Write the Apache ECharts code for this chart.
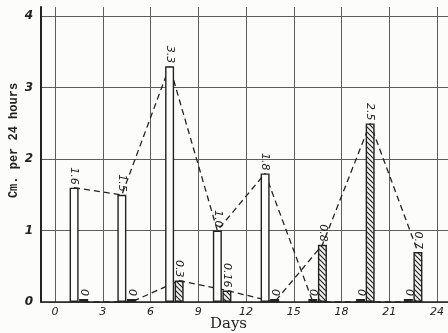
<!DOCTYPE html>
<html>
<head>
<meta charset="utf-8">
<script src="https://cdn.jsdelivr.net/npm/echarts@6/dist/echarts.min.js"></script>
<style>
  html, body { margin: 0; padding: 0; background: #fcfcfb; }
  #chart { width: 448px; height: 333px; }
</style>
</head>
<body>
<div id="chart"></div>
<script>
// Three-day periods: midpoint day of each period
const periodMid = [1.5, 4.5, 7.5, 10.5, 13.5, 16.5, 19.5, 22.5];
// Open bars (first measure) and hatched bars (second measure), cm per 24 hours
const openValues = [1.6, 1.5, 3.3, 1.0, 1.8, 0, 0, 0];
const openLabels = ['1.6', '1.5', '3.3', '1.0', '1.8', '0', '0', '0'];
const hatchValues = [0, 0, 0.3, 0.16, 0, 0.8, 2.5, 0.7];
const hatchLabels = ['0', '0', '0.3', '0.16', '0', '0.8', '2.5', '0.7'];
// Axis ticks
const dayTicks = [0, 3, 6, 9, 12, 15, 18, 21, 24];
const cmTicks = [0, 1, 2, 3, 4];

// the two bars of a period sit side by side around its midpoint
const HALF = 0.3;
const openData = periodMid.map((d, i) => [d - HALF, openValues[i]]);
const hatchData = periodMid.map((d, i) => [d + HALF, hatchValues[i]]);

function hatchPattern() {
  const s = 5;
  const c = document.createElement('canvas');
  c.width = s; c.height = s;
  const g = c.getContext('2d');
  g.fillStyle = '#f2f2f0';
  g.fillRect(0, 0, s, s);
  g.strokeStyle = '#2a2a2a';
  g.lineWidth = 1.2;
  g.beginPath();
  g.moveTo(0, 0); g.lineTo(s, s);
  g.moveTo(-s, 0); g.lineTo(0, s);
  g.moveTo(0, -s); g.lineTo(s, 0);
  g.moveTo(s, 0); g.lineTo(2 * s, s);
  g.moveTo(0, s); g.lineTo(s, 2 * s);
  g.stroke();
  return c;
}

const ink = '#222';
const labelFont = { fontFamily: 'DejaVu Sans', fontStyle: 'italic', fontSize: 11, color: ink };

function barLabel(texts) {
  return {
    show: true,
    position: 'top',
    distance: 3,
    rotate: -90,
    align: 'right',
    verticalAlign: 'middle',
    formatter: p => texts[p.dataIndex],
    ...labelFont
  };
}

const chart = echarts.init(document.getElementById('chart'), null, { renderer: 'canvas' });
chart.setOption({
  backgroundColor: '#fcfcfb',
  animation: false,
  grid: { left: 41, right: 0, top: 7, bottom: 31, containLabel: false, outerBoundsMode: 'none' },
  xAxis: {
    type: 'value',
    min: -0.88,
    max: 24.69,
    name: 'Days',
    nameLocation: 'middle',
    nameGap: 15,
    nameMoveOverlap: false,
    nameTextStyle: { fontFamily: 'DejaVu Serif', fontSize: 15, color: ink, padding: [0, 32, 0, 0] },
    axisLine: { show: true, onZero: false, lineStyle: { color: ink, width: 1.6 } },
    axisTick: { show: false, customValues: dayTicks },
    axisLabel: { customValues: dayTicks, margin: 5, ...labelFont, fontSize: 11 },
    splitLine: { show: true, lineStyle: { color: '#5e5e5e', width: 1 } }
  },
  yAxis: {
    type: 'value',
    min: 0,
    max: 4.13,
    name: 'Cm. per 24 hours',
    nameLocation: 'middle',
    nameRotate: 90,
    nameGap: 21,
    nameMoveOverlap: false,
    nameTextStyle: { fontFamily: 'Liberation Mono', fontWeight: 'bold', fontSize: 12, color: ink, padding: [0, 0, 0, 28] },
    axisLine: { show: true, onZero: false, lineStyle: { color: ink, width: 2 } },
    axisTick: { show: false, customValues: cmTicks },
    axisLabel: { customValues: cmTicks, margin: 8, ...labelFont, fontSize: 12, fontWeight: 'bold' },
    splitLine: { show: true, lineStyle: { color: '#5e5e5e', width: 1 } }
  },
  series: [
    {
      type: 'line',
      data: openData,
      showSymbol: false,
      z: 1,
      lineStyle: { color: ink, width: 1.3, type: [6, 4] }
    },
    {
      type: 'line',
      data: hatchData,
      showSymbol: false,
      z: 1,
      lineStyle: { color: ink, width: 1.3, type: [6, 4] }
    },
    {
      type: 'bar',
      data: openData,
      barWidth: 9,
      barGap: '-100%',
      barMinHeight: 3,
      z: 3,
      itemStyle: { color: '#fcfcfb', borderColor: ink, borderWidth: 1.4 },
      label: barLabel(openLabels)
    },
    {
      type: 'bar',
      data: hatchData,
      barWidth: 9,
      barGap: '-100%',
      barMinHeight: 3,
      z: 3,
      itemStyle: { color: { image: hatchPattern(), repeat: 'repeat' }, borderColor: ink, borderWidth: 1.4 },
      label: barLabel(hatchLabels)
    }
  ]
});
</script>
</body>
</html>
